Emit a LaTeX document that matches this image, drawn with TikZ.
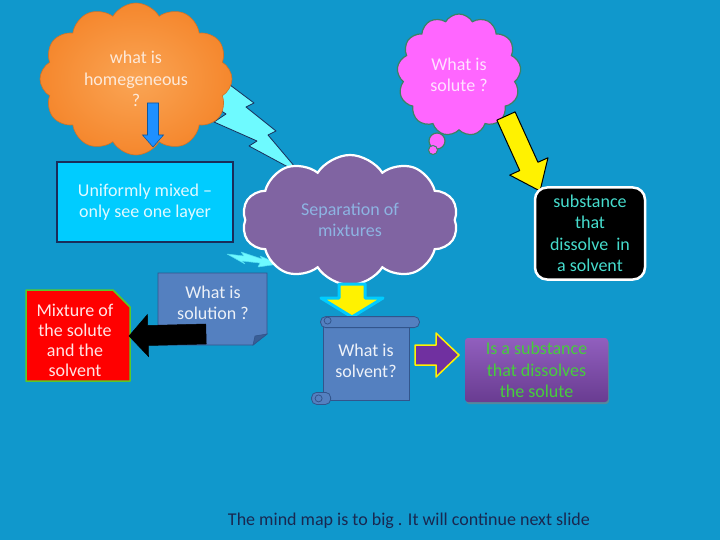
\documentclass[tikz,border=0pt]{standalone}
\usepackage{fontspec}
\setmainfont{Carlito}
\usetikzlibrary{arrows.meta, positioning, calc, shapes.symbols, shapes.misc, shadows}
\definecolor{slideBlue}{RGB}{16,152,204}
\definecolor{cloudOrange}{RGB}{245,135,45}
\definecolor{cloudOrangeIn}{RGB}{250,165,85}
\definecolor{peachText}{RGB}{253,233,217}
\definecolor{cloudPink}{RGB}{255,102,255}
\definecolor{pinkEdge}{RGB}{60,130,100}
\definecolor{pinkText}{RGB}{255,225,255}
\definecolor{cloudPurple}{RGB}{128,100,162}
\definecolor{sepText}{RGB}{141,180,226}
\definecolor{boxCyan}{RGB}{0,204,255}
\definecolor{boxNavy}{RGB}{25,45,90}
\definecolor{steelBlue}{RGB}{84,128,192}
\definecolor{steelEdge}{RGB}{50,85,140}
\definecolor{tealText}{RGB}{70,220,205}
\definecolor{mixRed}{RGB}{255,0,0}
\definecolor{mixGreen}{RGB}{90,200,40}
\definecolor{boltCyan}{RGB}{110,250,255}
\definecolor{arrowBlue}{RGB}{30,144,255}
\definecolor{arrowPurple}{RGB}{112,48,160}
\definecolor{boxPurpleTop}{RGB}{145,95,190}
\definecolor{boxPurpleBot}{RGB}{105,60,145}
\definecolor{greenText}{RGB}{70,205,60}
\definecolor{noteNavy}{RGB}{25,40,80}

% block arrow: [style]{tail}{tip}{half shaft}{half head}{head length}
\newcommand{\blockarrow}[6][]{%
  \coordinate (ba-base) at ($(#3)!#6!(#2)$);
  \filldraw[#1] ($(#2)!#4!90:(#3)$) -- ($(ba-base)!#4!90:(#3)$)
    -- ($(ba-base)!#5!90:(#3)$) -- (#3) -- ($(ba-base)!#5!-90:(#3)$)
    -- ($(ba-base)!#4!-90:(#3)$) -- ($(#2)!#4!-90:(#3)$) -- cycle;
}

\begin{document}
\begin{tikzpicture}[
    x=1pt, y=-1pt,
    every node/.style={font=\fontsize{18}{21.5}\selectfont, align=center},
    bubble/.style  = {cloud, cloud ignores aspect, minimum width=#1},
    textbox/.style = {rectangle, inner sep=2pt},
    bolt/.style    = {fill=boltCyan, draw=boxNavy, line width=0.8pt, line join=round},
    glow/.style    = {draw=boxCyan, line width=3pt, fill=yellow, line join=round}
]

% slide background
\fill[slideBlue] (0,0) rectangle (720,540);

% lightning from the orange cloud to the middle cloud
\draw[bolt] (218,76) -- (254,103) -- (246,107) -- (276,131) -- (268,135)
    -- (301,174) -- (249,146) -- (257,141) -- (214,122) -- (226,114)
    -- (205,100) -- cycle;

% top clouds
\node[bubble=192pt, minimum height=152pt, cloud puffs=12, cloud puff arc=120,
      shade, inner color=cloudOrangeIn, outer color=cloudOrange,
      draw=cloudOrange!85!black, line width=0.6pt, text=peachText]
    (homog) at (136,79) {what is\\homegeneous\\?};
\node[bubble=124pt, minimum height=122pt, cloud puffs=13, cloud puff arc=120,
      fill=cloudPink, draw=pinkEdge, line width=1.2pt, text=pinkText]
    (solute) at (459,75) {What is\\solute ?};
\draw[fill=cloudPink, draw=pinkEdge, line width=1.2pt] (437,141) circle (8);
\draw[fill=cloudPink, draw=pinkEdge, line width=1pt] (433,150) circle (4.5);

% arrows out of the top clouds
\coordinate (blueTail) at (153,103);
\coordinate (blueTip)  at (153,147);
\blockarrow[fill=arrowBlue, draw=arrowBlue!60!black, line width=0.6pt]{blueTail}{blueTip}{5.5pt}{10.5pt}{12pt}
\coordinate (yelTail) at (506,116);
\coordinate (yelTip)  at (540,191);
\blockarrow[fill=yellow, draw=black, line width=1pt, line join=round]{yelTail}{yelTip}{10pt}{21pt}{27pt}

% answers to the top clouds
\node[textbox, fill=boxCyan, draw=boxNavy, line width=1.5pt, text=white!88!boxCyan,
      minimum width=176pt, minimum height=80pt]
    (uniform) at (145,202) {Uniformly mixed --\\only see one layer};
\node[textbox, fill=black, draw=white, line width=2.5pt, rounded corners=12pt,
      text=tealText, minimum width=110pt, minimum height=92pt, inner sep=0pt]
    (substance) at (590,233.5) {substance\\that\\dissolve\ \ in\\a solvent};

% middle cloud
\draw[bolt, draw=boltCyan!70!slideBlue, line width=0.5pt]
    (227,254) -- (244,256) -- (241,252) -- (262,259) -- (260,256) -- (279,264)
    -- (258,267) -- (260,263) -- (242,261) -- (245,264) -- cycle;
\node[bubble=216pt, minimum height=130pt, cloud puffs=10, cloud puff arc=115,
      fill=cloudPurple, draw=white, line width=2.2pt, text=sepText]
    (sep) at (350,220) {Separation of\\mixtures};

% what is solution (folded corner) and its answer
\filldraw[fill=steelBlue, draw=steelEdge, line width=0.8pt]
    (158,273) -- (267,273) -- (267,334) -- (253,345) -- (158,345) -- cycle;
\filldraw[fill=steelEdge!80!steelBlue, draw=steelEdge, line width=0.6pt]
    (253,345) -- (255,336) -- (267,334) -- cycle;
\node[textbox, text=white!88!steelBlue] (solution) at (213,303) {What is\\solution ?};
\filldraw[fill=mixRed, draw=mixGreen, line width=1.5pt, line join=round]
    (26,290) -- (113,290) -- (130,307) -- (130,381) -- (26,381) -- cycle;
\node[textbox, text=white!90!mixRed, inner sep=0pt,
      font=\fontsize{18}{20}\selectfont]
    (mixture) at (75,340) {Mixture of\\the solute\\and the\\solvent};
\coordinate (blackTail) at (206,334);
\coordinate (blackTip)  at (129,336);
\blockarrow[fill=black, draw=black, line width=0.5pt]{blackTail}{blackTip}{10pt}{21pt}{19pt}

% what is solvent (scroll) and its answer
\coordinate (downTail) at (352,284);
\coordinate (downTip)  at (352,317);
\blockarrow[glow]{downTail}{downTip}{13pt}{31pt}{19pt}
\node[textbox, fill=steelBlue, draw=steelEdge, line width=0.8pt, text=white!90!steelBlue,
      minimum width=86pt, minimum height=78pt]
    (solvent) at (366,361) {What is\\solvent?};
\filldraw[fill=steelBlue, draw=steelEdge, line width=0.8pt, rounded corners=5pt]
    ($(solvent.north west)+(-2,-5)$) rectangle ($(solvent.north east)+(10,6)$);
\draw[steelEdge, line width=0.8pt] ($(solvent.north west)+(5,-1)$) circle (3.5);
\filldraw[fill=steelBlue, draw=steelEdge, line width=0.8pt, rounded corners=5pt]
    ($(solvent.south west)+(-11,-8)$) rectangle ($(solvent.south west)+(8,4)$);
\draw[steelEdge, line width=0.8pt] ($(solvent.south west)+(-4,-2)$) circle (3.5);
\node[textbox, top color=boxPurpleTop, bottom color=boxPurpleBot, rounded corners=3pt,
      drop shadow={shadow xshift=1pt, shadow yshift=-2pt, opacity=0.6},
      text=greenText, minimum width=143pt, minimum height=64pt, inner sep=0pt]
    (dissolves) at (536.5,370) {Is a substance\\that dissolves\\the solute};
\coordinate (purTail) at (415,355);
\coordinate (purTip)  at (459,355);
\blockarrow[fill=arrowPurple, draw=yellow, line width=1.5pt, line join=round]{purTail}{purTip}{10pt}{22pt}{23pt}

% footer
\node[text=noteNavy] (note) at (409,521) {The mind map is to big . It will continue next slide};

\end{tikzpicture}
\end{document}
